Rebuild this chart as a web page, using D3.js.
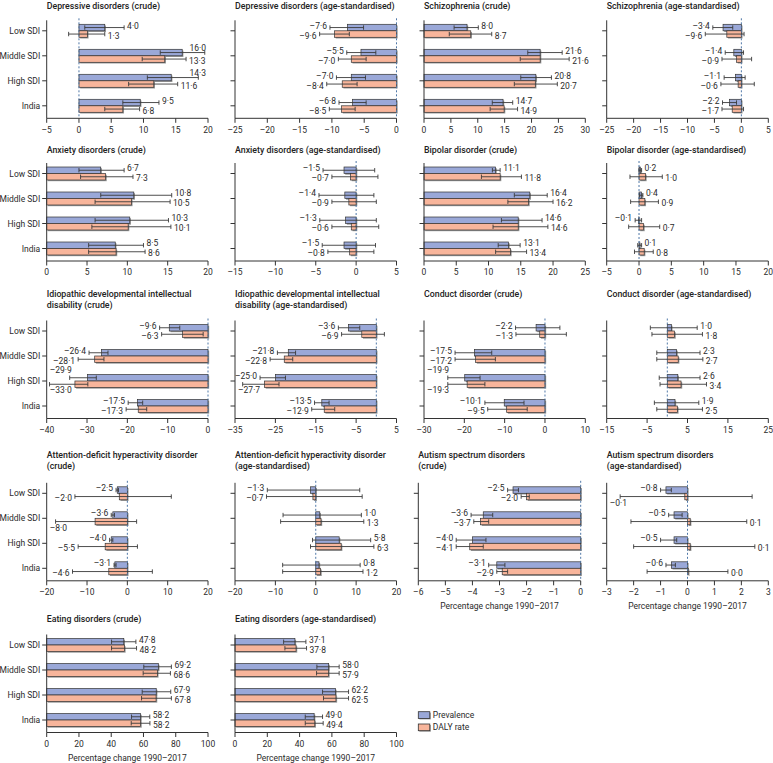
<!DOCTYPE html>
<html><head><meta charset="utf-8">
<script src="https://cdn.jsdelivr.net/npm/d3@7"></script>
<style>
body{margin:0;background:#fff}
svg{display:block}
text{font-family:Roboto,"Noto Sans",sans-serif;fill:#2b2b2b}
</style>
</head><body><svg id="c" width="773" height="763"></svg>
<script>
// ---------------- DATA ----------------
const categories = ["Low SDI", "Middle SDI", "High SDI", "India"];
const seriesNames = ["Prevalence", "DALY rate"];
const panelTitles = [
  ["Depressive disorders (crude)"],
  ["Depressive disorders (age-standardised)"],
  ["Schizophrenia (crude)"],
  ["Schizophrenia (age-standardised)"],
  ["Anxiety disorders (crude)"],
  ["Anxiety disorders (age-standardised)"],
  ["Bipolar disorder (crude)"],
  ["Bipolar disorder (age-standardised)"],
  ["Idiopathic developmental intellectual", "disability (crude)"],
  ["Idiopathic developmental intellectual", "disability (age-standardised)"],
  ["Conduct disorder (crude)"],
  ["Conduct disorder (age-standardised)"],
  ["Attention-deficit hyperactivity disorder", "(crude)"],
  ["Attention-deficit hyperactivity disorder", "(age-standardised)"],
  ["Autism spectrum disorders", "(crude)"],
  ["Autism spectrum disorders", "(age-standardised)"],
  ["Eating disorders (crude)"],
  ["Eating disorders (age-standardised)"]
];
const xDomains = [[-5,20],[-25,0],[0,30],[-25,5],[0,20],[-15,5],[0,25],[-5,20],
  [-40,0],[-35,5],[-30,10],[-15,25],[-20,20],[-20,20],[-6,0],[-3,3],[0,100],[0,100]];
const xTickSteps = [5,5,5,5,5,5,5,5,10,10,10,10,10,10,1,1,20,20];
const xAxisTitle = "Percentage change 1990–2017";
const axisTitlePanels = [14, 15, 16, 17];

const prevalence = [
  [4.0,16.0,14.3,9.5],[-7.6,-5.5,-7.0,-6.8],[8.0,21.6,20.8,14.7],[-3.4,-1.4,-1.1,-2.2],
  [6.7,10.8,10.3,8.5],[-1.5,-1.4,-1.3,-1.5],[11.1,16.4,14.6,13.1],[0.2,0.4,-0.1,0.1],
  [-9.6,-26.4,-29.9,-17.5],[-6.9,-21.8,-25.0,-13.5],[-2.2,-17.5,-19.9,-10.1],[1.0,2.3,2.6,1.9],
  [-2.5,-3.6,-4.0,-3.1],[-1.3,1.0,5.8,0.8],[-2.5,-3.6,-4.0,-3.1],[-0.8,-0.5,-0.5,-0.6],
  [47.8,69.2,67.9,58.2],[37.1,58.0,62.2,49.0]
];
const prevalenceLow = [
  [0.9,12.6,10.6,6.8],[-10.3,-7.7,-9.3,-8.9],[5.6,19.3,18.0,12.7],[-5.3,-3.0,-3.2,-3.5],
  [4.0,6.7,6.0,5.2],[-4.1,-4.6,-4.5,-4.2],[10.6,14.0,12.0,11.5],[0.0,0.1,-0.6,-0.2],
  [-12.0,-29.5,-34.3,-19.8],[-9.4,-24.5,-28.8,-15.3],[-7.3,-22.3,-24.1,-14.9],[-4.2,-2.6,-2.0,-3.2],
  [-2.8,-4.0,-4.4,-3.3],[-12.0,-8.1,-0.8,-8.2],[-2.7,-4.05,-4.6,-3.4],[-1.0,-0.7,-1.0,-0.8],
  [40.2,60.2,59.2,52.6],[30.1,50.7,54.2,43.5]
];
const prevalenceHigh = [
  [7.0,19.5,18.5,12.4],[-5.1,-3.2,-4.8,-4.7],[10.1,25.7,23.7,16.5],[-1.6,0.4,0.7,-0.9],
  [9.6,15.5,15.1,12.0],[2.3,2.2,2.5,2.4],[11.8,19.1,18.3,14.9],[0.4,0.6,0.4,0.4],
  [-7.0,-24.8,-27.7,-16.2],[-4.1,-20.0,-22.5,-11.7],[3.7,-13.2,-16.1,-5.2],[7.4,8.1,8.1,7.8],
  [-2.2,-3.2,-3.6,-2.8],[10.9,11.3,13.6,11.0],[-2.3,-3.25,-3.5,-2.8],[-0.6,-0.2,-0.4,-0.45],
  [55.3,77.3,76.9,63.9],[43.9,64.5,70.3,54.2]
];
const dalyRate = [
  [1.3,13.3,11.6,6.8],[-9.6,-7.0,-8.4,-8.5],[8.7,21.6,20.7,14.9],[-2.7,-0.9,-0.6,-1.7],
  [7.3,10.5,10.1,8.6],[-0.7,-0.9,-0.6,-0.8],[11.8,16.2,14.6,13.4],[1.0,0.9,0.7,0.8],
  [-6.3,-28.1,-33.0,-17.3],[-3.6,-22.8,-27.7,-12.9],[-1.3,-17.2,-19.3,-9.5],[1.8,2.7,3.4,2.5],
  [-2.0,-8.0,-5.5,-4.6],[-0.7,1.3,6.3,1.2],[-2.0,-3.7,-4.1,-2.9],[-0.1,0.1,0.1,0.0],
  [48.2,68.6,67.8,58.2],[37.8,57.9,62.5,49.4]
];
const dalyRateLow = [
  [-1.6,9.8,7.7,4.0],[-11.9,-9.0,-10.8,-10.4],[4.7,17.9,16.8,12.3],[-6.7,-3.6,-3.8,-3.6],
  [4.2,6.0,5.6,5.2],[-3.0,-3.0,-3.0,-3.5],[8.9,13.0,10.7,11.1],[-1.4,-1.3,-1.6,-0.7],
  [-11.5,-32.2,-39.3,-20.3],[-8.6,-26.3,-33.1,-16.0],[-7.2,-22.3,-24.1,-14.2],[-3.8,-2.6,-1.8,-2.6],
  [-13.0,-17.8,-12.2,-13.6],[-12.2,-8.7,-1.3,-8.2],[-2.2,-3.95,-4.6,-3.1],[-2.5,-2.1,-2.0,-1.5],
  [40.2,59.8,58.8,52.4],[30.9,50.5,54.8,43.5]
];
const dalyRateHigh = [
  [4.0,16.6,15.3,9.4],[-7.3,-4.7,-6.1,-6.4],[12.6,27.0,24.8,17.4],[0.5,1.9,2.4,0.4],
  [10.7,15.3,15.4,12.2],[2.7,2.5,2.8,2.2],[15.1,20.0,19.2,15.9],[3.6,3.0,3.2,2.2],
  [-1.2,-25.8,-29.8,-15.2],[2.0,-20.7,-24.1,-10.3],[5.3,-12.3,-14.9,-4.4],[8.7,8.8,9.7,8.7],
  [10.9,2.3,2.5,6.2],[11.5,11.9,14.4,11.7],[-1.9,-3.4,-3.6,-2.7],[2.4,2.2,2.5,1.5],
  [55.7,76.7,77.3,64.0],[44.3,64.5,70.3,54.6]
];
// printed value labels that differ from the drawn bar in the source figure
const labelOverrides = [
  {panel: 3, category: "Low SDI", series: "DALY rate", text: "–9·6"},
  {panel: 9, category: "Low SDI", series: "Prevalence", text: "–3·6"},
  {panel: 9, category: "Low SDI", series: "DALY rate", text: "–6·9"}
];

// ---------------- LAYOUT ----------------
const colX = [[46.7,208],[235,396.5],[424,585.3],[606.7,768.3]];
const panelXOverride = {14: [418.3,580.7]};
const rowAxisY = [118.3, 261, 418.5, 580.8, 732.5];
const rowTitleY = [8.5, 153, 297, 458, 621.5];
const titleLineGap = 10.8;
const plotH = 100;
const barH = 6.5;
const colors = {"Prevalence": "#9aa8d8", "DALY rate": "#f8b59b"};
const FS = 8.5;

const svg = d3.select("#c");
const fmt = v => (v < 0 ? "–" : "") + Math.abs(v).toFixed(1).replace(".", "·");
const tickFmt = v => (v < 0 ? "–" : "") + Math.abs(v);

panelTitles.forEach((title, i) => {
  const row = Math.floor(i / 4), col = i % 4;
  const xr = panelXOverride[i] || colX[col];
  const axisY = rowAxisY[row];
  const dom = xDomains[i];
  const x = d3.scaleLinear().domain(dom).range(xr);
  const y = d3.scaleBand().domain(categories).range([axisY - plotH, axisY]);
  const g = svg.append("g");

  // title
  title.forEach((t, k) => {
    g.append("text").attr("x", xr[0]).attr("y", rowTitleY[row] + k * titleLineGap)
      .attr("font-size", FS + 0.3).attr("font-weight", 500).style("fill", "#222").text(t);
  });

  // bars
  const recs = [];
  categories.forEach((c, j) => {
    const cy = y(c) + y.bandwidth() / 2;
    [["Prevalence", prevalence, prevalenceLow, prevalenceHigh, cy - barH],
     ["DALY rate", dalyRate, dalyRateLow, dalyRateHigh, cy]].forEach(([s, v, lo, hi, by]) => {
      recs.push({c, s, v: v[i][j], lo: lo[i][j], hi: hi[i][j], by, cy});
    });
  });

  // shadow
  g.selectAll("rect.sh").data(recs).enter().append("rect")
    .attr("x", d => Math.min(x(0), x(d.v)) + 1.2).attr("y", d => d.by + 1.2)
    .attr("width", d => Math.max(0.8, Math.abs(x(d.v) - x(0))))
    .attr("height", barH).attr("fill", "#9a9a9a");
  g.selectAll("rect.bar").data(recs).enter().append("rect")
    .attr("x", d => Math.min(x(0), x(d.v))).attr("y", d => d.by)
    .attr("width", d => Math.max(0.8, Math.abs(x(d.v) - x(0))))
    .attr("height", barH).attr("fill", d => colors[d.s])
    .attr("stroke", "#333").attr("stroke-width", 0.7);

  // zero line
  if (dom[0] < 0) {
    g.append("line").attr("x1", x(0)).attr("x2", x(0))
      .attr("y1", axisY - plotH).attr("y2", axisY)
      .attr("stroke", "#4f78a8").attr("stroke-width", 1).attr("stroke-dasharray", "2,2");
  }

  // error bars
  recs.forEach(d => {
    const ey = d.by + barH / 2;
    g.append("line").attr("x1", x(d.lo)).attr("x2", x(d.hi)).attr("y1", ey).attr("y2", ey)
      .attr("stroke", "#3a3a3a").attr("stroke-width", 0.9);
    [d.lo, d.hi].forEach(e => g.append("line").attr("x1", x(e)).attr("x2", x(e))
      .attr("y1", ey - 2.2).attr("y2", ey + 2.2).attr("stroke", "#3a3a3a").attr("stroke-width", 0.9));
  });

  // value labels
  recs.forEach(d => {
    const ov = labelOverrides.find(o => o.panel === i && o.category === d.c && o.series === d.s);
    const txt = ov ? ov.text : fmt(d.v);
    const isPrev = d.s === "Prevalence";
    let ty = d.cy + (isPrev ? -2.3 : 7.9);
    const t = g.append("text").attr("font-size", FS).text(txt);
    const w = t.node().getComputedTextLength();
    let tx, anchor;
    if (d.v >= 0 && !(ov && ov.text.startsWith("–"))) {
      tx = x(d.hi) + 3; anchor = "start";
      if (tx + w > xr[1] + 8) { tx = xr[1] - 2; anchor = "end"; ty += isPrev ? -3 : 3; }
    } else {
      tx = x(d.lo) - 3; anchor = "end";
      if (tx - w < xr[0] - 1) { tx = xr[0] + 3; anchor = "start"; ty += isPrev ? -5.5 : 4.5; }
    }
    t.attr("x", tx).attr("y", ty).attr("text-anchor", anchor);
  });

  // x axis
  const ticks = d3.range(dom[0], dom[1] + 1e-9, xTickSteps[i]);
  g.append("line").attr("x1", xr[0]).attr("x2", xr[1]).attr("y1", axisY).attr("y2", axisY)
    .attr("stroke", "#333").attr("stroke-width", 1);
  ticks.forEach(tk => {
    g.append("line").attr("x1", x(tk)).attr("x2", x(tk)).attr("y1", axisY).attr("y2", axisY + 4.5)
      .attr("stroke", "#333").attr("stroke-width", 1);
    g.append("text").attr("x", x(tk)).attr("y", axisY + 14.2).attr("text-anchor", "middle")
      .attr("font-size", FS).text(tickFmt(tk));
  });
  // y axis
  g.append("line").attr("x1", xr[0]).attr("x2", xr[0]).attr("y1", axisY - plotH + 2).attr("y2", axisY)
    .attr("stroke", "#333").attr("stroke-width", 1);
  categories.forEach(c => {
    const cy = y(c) + y.bandwidth() / 2;
    g.append("line").attr("x1", xr[0] - 4.5).attr("x2", xr[0]).attr("y1", cy).attr("y2", cy)
      .attr("stroke", "#333").attr("stroke-width", 1);
    if (col === 0) {
      g.append("text").attr("x", xr[0] - 6.5).attr("y", cy + 3).attr("text-anchor", "end")
        .attr("font-size", FS).text(c);
    }
  });
  if (axisTitlePanels.includes(i)) {
    g.append("text").attr("x", (xr[0] + xr[1]) / 2).attr("y", axisY + 28.5)
      .attr("text-anchor", "middle").attr("font-size", FS).text(xAxisTitle);
  }
});

// legend
const lg = svg.append("g").attr("transform", "translate(418.3,711.7)");
seriesNames.forEach((s, k) => {
  const gy = k * 12.3;
  lg.append("rect").attr("x", 1).attr("y", gy + 1).attr("width", 11.5).attr("height", 6.7).attr("fill", "#9a9a9a");
  lg.append("rect").attr("x", 0).attr("y", gy).attr("width", 11.5).attr("height", 6.7)
    .attr("fill", colors[s]).attr("stroke", "#333").attr("stroke-width", 0.8);
  lg.append("text").attr("x", 14.5).attr("y", gy + 6.5).attr("font-size", FS).text(s);
});
</script>
</body></html>
